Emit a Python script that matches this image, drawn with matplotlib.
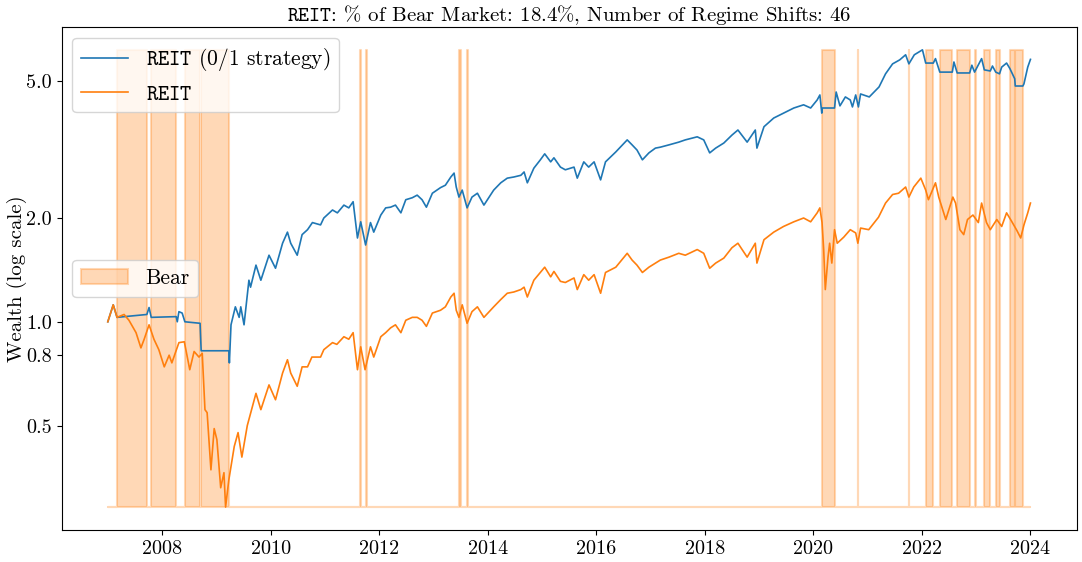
import numpy as np
import matplotlib
matplotlib.use("Agg")
import matplotlib.pyplot as plt
from matplotlib.ticker import FixedLocator, FixedFormatter, NullLocator, MultipleLocator, FormatStrFormatter

plt.rcParams['font.family'] = 'serif'
plt.rcParams['font.serif'] = ['cmr10']
plt.rcParams['mathtext.fontset'] = 'cm'
plt.rcParams['axes.formatter.use_mathtext'] = True
plt.rcParams['axes.unicode_minus'] = False

# REIT buy & hold wealth (fractional years)
reit_t = [2007.00, 2007.10, 2007.17, 2007.30, 2007.39, 2007.52, 2007.61, 2007.67, 2007.76, 2007.85,
          2007.94, 2008.04, 2008.13, 2008.18, 2008.31, 2008.41, 2008.51, 2008.59, 2008.68, 2008.74,
          2008.79, 2008.83, 2008.90, 2008.96, 2009.01, 2009.08, 2009.14, 2009.17, 2009.23, 2009.33,
          2009.40, 2009.47, 2009.57, 2009.73, 2009.82, 2009.97, 2010.09, 2010.22, 2010.31, 2010.37,
          2010.49, 2010.58, 2010.68, 2010.76, 2010.92, 2010.98, 2011.14, 2011.22, 2011.35, 2011.44,
          2011.52, 2011.60, 2011.66, 2011.74, 2011.84, 2011.90, 2012.03, 2012.12, 2012.21, 2012.30,
          2012.40, 2012.49, 2012.61, 2012.70, 2012.79, 2012.87, 2012.98, 2013.13, 2013.22, 2013.32,
          2013.38, 2013.42, 2013.47, 2013.53, 2013.62, 2013.71, 2013.81, 2013.93, 2014.11, 2014.24,
          2014.36, 2014.48, 2014.61, 2014.67, 2014.73, 2014.85, 2014.97, 2015.05, 2015.16, 2015.22,
          2015.34, 2015.43, 2015.59, 2015.65, 2015.77, 2015.86, 2015.96, 2016.08, 2016.17, 2016.36,
          2016.57, 2016.66, 2016.75, 2016.85, 2016.97, 2017.09, 2017.18, 2017.34, 2017.52, 2017.64,
          2017.86, 2017.98, 2018.09, 2018.20, 2018.35, 2018.50, 2018.61, 2018.78, 2018.93, 2018.96,
          2019.09, 2019.27, 2019.45, 2019.64, 2019.82, 2019.95, 2020.07, 2020.12, 2020.16, 2020.19,
          2020.22, 2020.27, 2020.30, 2020.34, 2020.39, 2020.44, 2020.56, 2020.68, 2020.78, 2020.82,
          2020.87, 2021.02, 2021.20, 2021.33, 2021.46, 2021.57, 2021.70, 2021.76, 2021.85, 2021.98,
          2022.07, 2022.12, 2022.25, 2022.31, 2022.44, 2022.57, 2022.62, 2022.70, 2022.77, 2022.84,
          2022.94, 2023.04, 2023.10, 2023.19, 2023.26, 2023.38, 2023.47, 2023.56, 2023.65, 2023.75,
          2023.82, 2023.88, 2023.95, 2024.00]
reit_w = [1.00, 1.12, 1.03, 1.05, 1.01, 0.93, 0.84, 0.89, 0.98, 0.89,
          0.83, 0.74, 0.80, 0.76, 0.87, 0.875, 0.726, 0.82, 0.79, 0.81,
          0.556, 0.545, 0.372, 0.49, 0.455, 0.33, 0.365, 0.29, 0.348, 0.435,
          0.477, 0.405, 0.50, 0.62, 0.556, 0.656, 0.594, 0.71, 0.776, 0.71,
          0.65, 0.74, 0.74, 0.79, 0.79, 0.83, 0.87, 0.86, 0.905, 0.89,
          0.93, 0.726, 0.846, 0.726, 0.846, 0.79, 0.905, 0.93, 0.96, 0.98,
          0.93, 1.01, 1.03, 1.03, 1.01, 0.97, 1.06, 1.08, 1.105, 1.18,
          1.21, 1.08, 1.03, 1.12, 0.99, 1.07, 1.105, 1.03, 1.105, 1.16,
          1.21, 1.22, 1.24, 1.26, 1.18, 1.32, 1.39, 1.44, 1.35, 1.40,
          1.31, 1.30, 1.34, 1.24, 1.37, 1.32, 1.37, 1.21, 1.39, 1.44,
          1.58, 1.51, 1.46, 1.39, 1.44, 1.48, 1.51, 1.54, 1.58, 1.56,
          1.62, 1.58, 1.43, 1.48, 1.53, 1.64, 1.69, 1.54, 1.69, 1.48,
          1.73, 1.82, 1.89, 1.95, 2.00, 1.95, 2.07, 2.14, 1.94, 1.62,
          1.24, 1.54, 1.69, 1.48, 1.85, 1.69, 1.76, 1.85, 1.81, 1.69,
          1.87, 1.85, 2.01, 2.21, 2.34, 2.36, 2.46, 2.30, 2.46, 2.61,
          2.41, 2.26, 2.53, 2.30, 1.98, 2.30, 2.21, 1.85, 1.79, 1.98,
          2.04, 1.94, 2.21, 1.94, 1.85, 1.98, 1.89, 2.07, 1.96, 1.84,
          1.75, 1.91, 2.07, 2.21]

# 0/1 strategy wealth (flat while in the bear regime)
strat_t = [2007.00, 2007.10, 2007.17, 2007.72, 2007.76, 2007.80, 2008.26, 2008.28, 2008.31, 2008.37,
           2008.42, 2008.70, 2008.72, 2009.23, 2009.24, 2009.27, 2009.35, 2009.42, 2009.45, 2009.51,
           2009.60, 2009.63, 2009.73, 2009.82, 2009.97, 2010.09, 2010.22, 2010.31, 2010.37, 2010.49,
           2010.58, 2010.68, 2010.77, 2010.92, 2010.98, 2011.14, 2011.23, 2011.35, 2011.44, 2011.52,
           2011.60, 2011.66, 2011.75, 2011.84, 2011.90, 2012.03, 2012.12, 2012.21, 2012.30, 2012.40,
           2012.49, 2012.61, 2012.70, 2012.79, 2012.87, 2012.98, 2013.13, 2013.22, 2013.32, 2013.38,
           2013.42, 2013.47, 2013.53, 2013.62, 2013.71, 2013.81, 2013.93, 2014.11, 2014.24, 2014.36,
           2014.48, 2014.61, 2014.67, 2014.73, 2014.85, 2014.97, 2015.05, 2015.16, 2015.22, 2015.34,
           2015.43, 2015.59, 2015.65, 2015.77, 2015.86, 2015.96, 2016.08, 2016.17, 2016.36, 2016.57,
           2016.66, 2016.75, 2016.85, 2016.97, 2017.09, 2017.18, 2017.34, 2017.52, 2017.64, 2017.86,
           2017.98, 2018.09, 2018.20, 2018.35, 2018.50, 2018.61, 2018.78, 2018.93, 2018.96, 2019.09,
           2019.27, 2019.45, 2019.64, 2019.82, 2019.95, 2020.07, 2020.12, 2020.155, 2020.165, 2020.39,
           2020.42, 2020.49, 2020.59, 2020.68, 2020.72, 2020.78, 2020.83, 2020.87, 2021.03, 2021.21,
           2021.33, 2021.46, 2021.59, 2021.70, 2021.76, 2021.86, 2022.01, 2022.07, 2022.21, 2022.25,
           2022.33, 2022.56, 2022.59, 2022.65, 2022.88, 2022.92, 2022.97, 2023.10, 2023.15, 2023.26,
           2023.30, 2023.36, 2023.43, 2023.47, 2023.56, 2023.62, 2023.71, 2023.72, 2023.86, 2023.88,
           2023.95, 2024.00]
strat_w = [1.00, 1.12, 1.03, 1.05, 1.10, 1.03, 1.035, 1.00, 1.07, 1.06,
           1.00, 0.99, 0.824, 0.824, 0.76, 0.98, 1.105, 1.03, 1.105, 0.98,
           1.32, 1.26, 1.46, 1.32, 1.56, 1.43, 1.69, 1.82, 1.69, 1.56,
           1.79, 1.85, 1.94, 1.91, 2.00, 2.11, 2.07, 2.18, 2.14, 2.23,
           1.75, 1.95, 1.67, 1.94, 1.82, 2.04, 2.14, 2.15, 2.18, 2.07,
           2.26, 2.29, 2.33, 2.26, 2.15, 2.36, 2.45, 2.49, 2.63, 2.70,
           2.46, 2.30, 2.41, 2.14, 2.30, 2.36, 2.18, 2.41, 2.53, 2.61,
           2.63, 2.66, 2.72, 2.53, 2.79, 2.95, 3.07, 2.91, 2.99, 2.81,
           2.76, 2.81, 2.61, 2.91, 2.81, 2.91, 2.58, 2.91, 3.11, 3.37,
           3.26, 3.15, 2.95, 3.09, 3.19, 3.21, 3.26, 3.32, 3.37, 3.44,
           3.37, 3.09, 3.19, 3.30, 3.48, 3.60, 3.32, 3.60, 3.19, 3.68,
           3.90, 4.03, 4.17, 4.26, 4.17, 4.40, 4.55, 4.03, 4.17, 4.17,
           4.64, 4.23, 4.49, 4.40, 4.20, 4.55, 4.20, 4.58, 4.49, 4.80,
           5.24, 5.60, 5.75, 5.95, 5.60, 5.95, 6.15, 5.63, 5.63, 5.80,
           5.30, 5.30, 5.67, 5.27, 5.27, 5.55, 5.30, 5.80, 5.38, 5.34,
           5.52, 5.30, 5.24, 5.48, 5.63, 5.43, 5.07, 4.83, 4.83, 4.90,
           5.48, 5.77]

# bear regime periods (start, end)
bear_start = [2007.17, 2007.80, 2008.42, 2008.72, 2011.645, 2011.765, 2013.47, 2013.615, 2020.16, 2020.815,
              2021.755, 2022.07, 2022.33, 2022.65, 2022.985, 2023.15, 2023.36, 2023.62, 2023.72]
bear_end = [2007.72, 2008.26, 2008.70, 2009.23, 2011.66, 2011.78, 2013.51, 2013.63, 2020.39, 2020.83,
            2021.77, 2022.21, 2022.56, 2022.88, 2023.00, 2023.26, 2023.43, 2023.71, 2023.86]

fig, ax = plt.subplots(figsize=(10.82, 5.62), dpi=100)
fig.subplots_adjust(left=0.057, right=0.995, bottom=0.057, top=0.952)

l1, = ax.plot(strat_t, strat_w, color='C0', lw=1.2, label=r'$\mathtt{REIT}$ (0/1 strategy)')
l2, = ax.plot(reit_t, reit_w, color='C1', lw=1.2, label=r'$\mathtt{REIT}$')

# regime shading: step curve between the data min and max
lo = min(reit_w)
hi = max(strat_w)
xs = [reit_t[0]]
ys = [lo]
for s, e in zip(bear_start, bear_end):
    xs += [s, s, e, e]
    ys += [lo, hi, hi, lo]
xs.append(reit_t[-1])
ys.append(lo)
fb = ax.fill_between(xs, lo, ys, color='C1', alpha=0.3, lw=1.5, label='Bear')

ax.set_yscale('log')
ax.yaxis.set_major_locator(FixedLocator([0.5, 0.8, 1.0, 2.0, 5.0]))
ax.yaxis.set_major_formatter(FixedFormatter(['0.5', '0.8', '1.0', '2.0', '5.0']))
ax.yaxis.set_minor_locator(NullLocator())
ax.xaxis.set_major_locator(MultipleLocator(2))
ax.xaxis.set_major_formatter(FormatStrFormatter('%d'))
ax.tick_params(labelsize=14.5)

ax.set_ylabel('Wealth (log scale)', fontsize=15, labelpad=-0.5)
ax.set_title(r'$\mathtt{REIT}$: % of Bear Market: 18.4%, Number of Regime Shifts: 46', fontsize=15, pad=4)

leg1 = ax.legend(handles=[l1, l2], loc='upper left', fontsize=15.5, handlelength=2.2)
ax.add_artist(leg1)
ax.legend(handles=[fb], loc='center left', fontsize=15.5, handlelength=2.2)

fig.savefig('out.png', dpi=100)
